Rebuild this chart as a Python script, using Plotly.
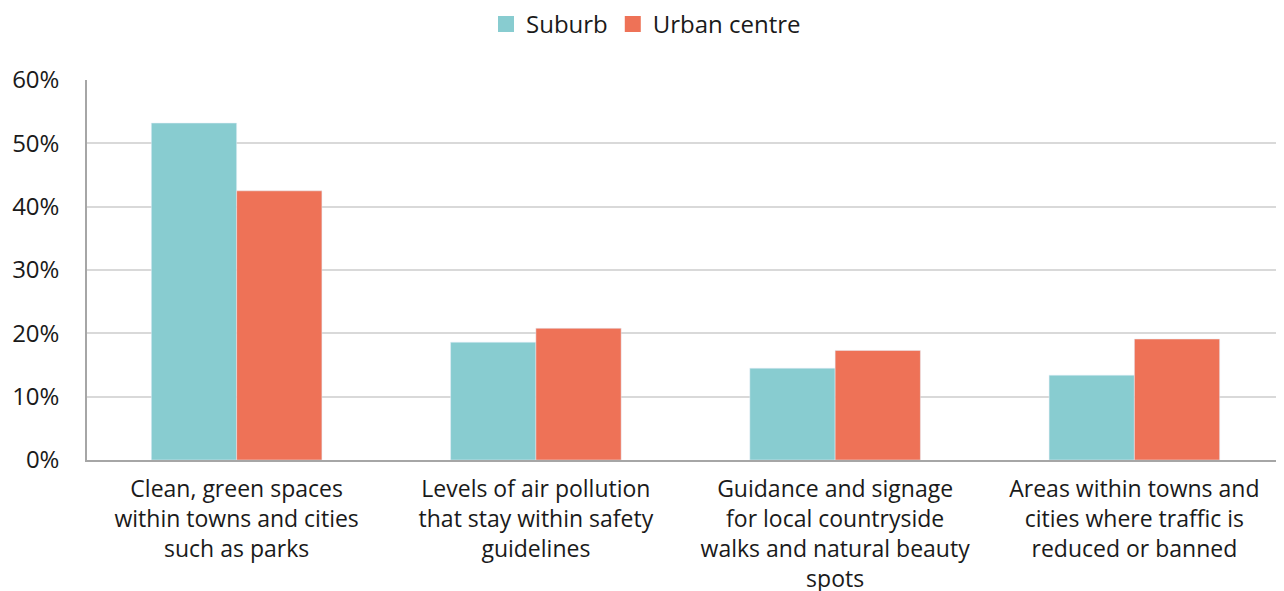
import plotly.graph_objects as go

categories = [
    "Clean, green spaces<br>within towns and cities<br>such as parks",
    "Levels of air pollution<br>that stay within safety<br>guidelines",
    "Guidance and signage<br>for local countryside<br>walks and natural beauty<br>spots",
    "Areas within towns and<br>cities where traffic is<br>reduced or banned",
]
series_names = ["Suburb", "Urban centre"]
suburb = [0.532, 0.186, 0.145, 0.134]
urban = [0.425, 0.208, 0.173, 0.191]
y_ticks = [0, 0.1, 0.2, 0.3, 0.4, 0.5, 0.6]
y_tick_labels = ["0%", "10%", "20%", "30%", "40%", "50%", "60%"]

COLORS = ["#88CCD0", "#EE7257"]
FONT = "'Open Sans', Lato, sans-serif"
TEXT = "#1a1a1a"

fig = go.Figure()
for name, vals, col in zip(series_names, [suburb, urban], COLORS):
    fig.add_trace(go.Bar(name=name, x=categories, y=vals, marker_color=col,
                         showlegend=False, legendgroup=name))
# legend entries with larger square swatches
for name, col in zip(series_names, COLORS):
    fig.add_trace(go.Scatter(name=name, x=[None], y=[None], mode="markers",
                             marker=dict(symbol="square", size=17, color=col),
                             legendgroup=name, hoverinfo="skip"))

fig.update_layout(
    width=1276, height=583,
    margin=dict(l=79, r=0, t=72, b=131, autoexpand=False),
    barmode="group", bargap=0.43, bargroupgap=0,
    plot_bgcolor="white", paper_bgcolor="white",
    font=dict(family=FONT, size=23, color=TEXT),
    legend=dict(orientation="h", xref="container", yref="container",
                x=0.5, xanchor="center", y=0.972, yanchor="middle",
                font=dict(size=24, color=TEXT), itemwidth=30,
                traceorder="normal"),
)
fig.update_yaxes(range=[0, 0.6], tickvals=y_ticks, ticktext=y_tick_labels,
                 showgrid=True, gridcolor="#D9D9D9", gridwidth=1.5,
                 showline=True, linecolor="#A6A6A6", linewidth=1.5,
                 zeroline=False, ticks="", ticklabelstandoff=21,
                 automargin=False,
                 tickfont=dict(size=24, color=TEXT))
fig.update_xaxes(showline=True, linecolor="#A6A6A6", linewidth=1.5,
                 ticks="", tickangle=0, ticklabelstandoff=8,
                 automargin=False,
                 tickfont=dict(size=23, color=TEXT))

fig.write_html("out.html")
